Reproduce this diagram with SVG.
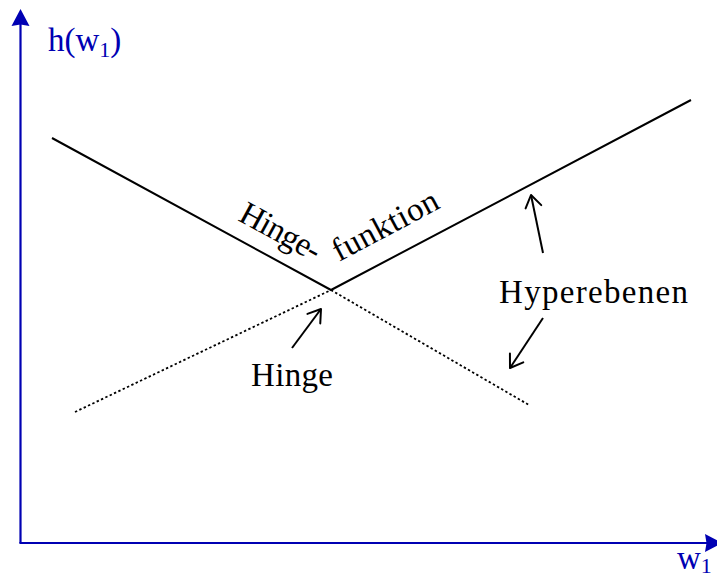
<svg xmlns="http://www.w3.org/2000/svg" width="717" height="579" viewBox="0 0 717 579">
<defs>
<style>
.axis{stroke:#0000B3;stroke-width:2.2;fill:none}
.solid{stroke:#000;stroke-width:2;fill:none}
.dotted{stroke:#000;stroke-width:1.8;fill:none;stroke-dasharray:2.4 2.4}
.arr{stroke:#000;stroke-width:2;fill:none}
.lbl{font-family:"Liberation Serif","DejaVu Serif",serif;font-size:33px;fill:#000}
.blue{font-family:"Liberation Serif","DejaVu Serif",serif;font-size:33px;fill:#0000B3}
</style>
<marker id="axhead" markerUnits="userSpaceOnUse" markerWidth="24" markerHeight="24" viewBox="-10 -12 24 24" refX="0" refY="0" orient="auto" overflow="visible">
<path d="M10,0 L-7,-9 L-5.5,0 L-7,9 Z" fill="#0000B3"/>
</marker>
<marker id="open" markerUnits="userSpaceOnUse" markerWidth="30" markerHeight="30" viewBox="-15 -15 30 30" refX="0" refY="0" orient="auto" overflow="visible">
<path d="M-12,-8 L0,0 L-12,8" fill="none" stroke="#000" stroke-width="2" stroke-linecap="round" stroke-linejoin="round"/>
</marker>
</defs>
<rect width="717" height="579" fill="#fff"/>
<g id="axes">
<path class="axis" d="M20.5,543 L20.5,19" marker-end="url(#axhead)"/>
<path class="axis" d="M19.4,543 L712,543" marker-end="url(#axhead)"/>
<text class="blue" x="48" y="51">h(w<tspan font-size="22" dy="6">1</tspan><tspan dy="-6">)</tspan></text>
<text class="blue" x="677" y="569">w<tspan font-size="22" dy="4">1</tspan></text>
</g>
<g id="hinge-function">
<path class="solid" d="M52,138 L331,290 L691,100"/>
<text class="lbl" transform="translate(237,220) rotate(28.6)" textLength="88">Hinge-</text>
<text class="lbl" transform="translate(339,262) rotate(-28)" textLength="116">funktion</text>
</g>
<g id="hyperplanes">
<path class="dotted" d="M75,412 L331,290"/>
<path class="dotted" d="M331,290 L529,405"/>
</g>
<g id="label-hinge">
<text class="lbl" x="251" y="386" textLength="82">Hinge</text>
</g>
<g id="label-hyperebenen">
<text class="lbl" x="499" y="303" textLength="189">Hyperebenen</text>
</g>
<g id="connectors">
<path class="arr" d="M292,348 L321,309" marker-end="url(#open)"/>
<path class="arr" d="M543,253 L531,195" marker-end="url(#open)"/>
<path class="arr" d="M543,318 L510,368" marker-end="url(#open)"/>
</g>
</svg>
